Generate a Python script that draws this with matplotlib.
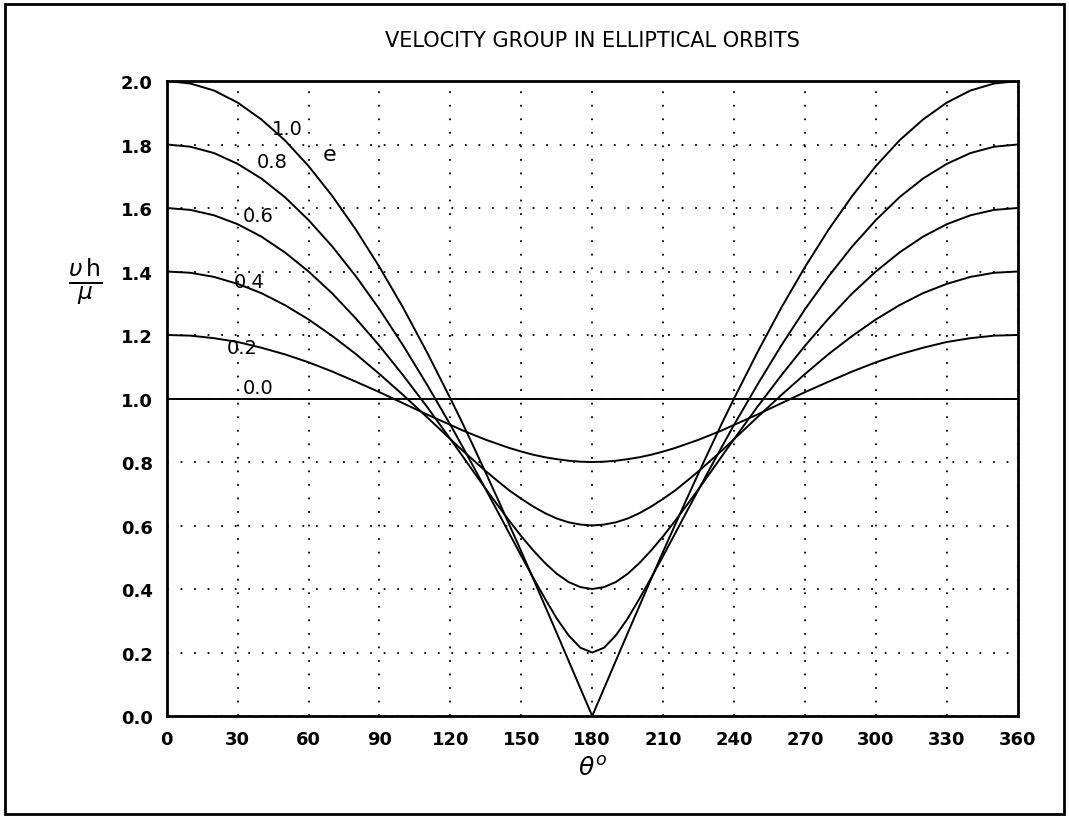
import numpy as np
import matplotlib.pyplot as plt
from matplotlib.patches import Rectangle

# theta from 0 to 180 deg, curves are mirror images about 180
theta_half = [0, 10, 20, 30, 40, 50, 60, 70, 80, 90, 100, 110, 120,
              125, 130, 135, 140, 145, 150, 155, 160, 165, 170, 175, 180]

# values, v h / mu
e00 = [1.0] * 25
e02 = [1.200, 1.198, 1.190, 1.178, 1.160, 1.139, 1.114, 1.085, 1.053, 1.020, 0.985, 0.950, 0.917,
       0.900, 0.885, 0.870, 0.857, 0.844, 0.833, 0.823, 0.815, 0.809, 0.804, 0.801, 0.800]
e04 = [1.400, 1.396, 1.383, 1.361, 1.332, 1.294, 1.249, 1.197, 1.140, 1.077, 1.011, 0.942, 0.872,
       0.837, 0.804, 0.771, 0.740, 0.710, 0.684, 0.660, 0.639, 0.622, 0.610, 0.603, 0.600]
e06 = [1.600, 1.594, 1.577, 1.549, 1.510, 1.460, 1.400, 1.331, 1.252, 1.166, 1.073, 0.975, 0.872,
       0.820, 0.767, 0.715, 0.664, 0.614, 0.566, 0.522, 0.482, 0.448, 0.422, 0.406, 0.400]
e08 = [1.800, 1.793, 1.773, 1.739, 1.693, 1.634, 1.562, 1.479, 1.385, 1.281, 1.167, 1.045, 0.917,
       0.850, 0.782, 0.713, 0.644, 0.574, 0.504, 0.436, 0.370, 0.307, 0.254, 0.215, 0.200]
e10 = [2.000, 1.992, 1.970, 1.932, 1.879, 1.813, 1.732, 1.638, 1.532, 1.414, 1.286, 1.147, 1.000,
       0.924, 0.845, 0.765, 0.684, 0.601, 0.518, 0.433, 0.347, 0.261, 0.174, 0.087, 0.000]

curves = [e00, e02, e04, e06, e08, e10]
curve_labels = ["0.0", "0.2", "0.4", "0.6", "0.8", "1.0"]
label_pos = [(38.5, 1.036), (32, 1.162), (35, 1.367), (38.5, 1.575), (44.5, 1.748), (51, 1.849)]

xticks = list(range(0, 361, 30))
yticks = [0.0, 0.2, 0.4, 0.6, 0.8, 1.0, 1.2, 1.4, 1.6, 1.8, 2.0]

theta = theta_half + [360 - t for t in theta_half[-2::-1]]

fig = plt.figure(figsize=(10.69, 8.2), dpi=100)
ax = fig.add_axes([0.156, 0.1256, 0.796, 0.7744])

for vals in curves:
    full = vals + vals[-2::-1]
    ax.plot(theta, full, color="black", lw=1.4)

for lab, (x, y) in zip(curve_labels, label_pos):
    ax.text(x, y, lab, fontsize=14, ha="center", va="center")
ax.text(69, 1.77, "e", fontsize=16, ha="center", va="center")

ax.set_xlim(0, 360)
ax.set_ylim(0, 2.0)
ax.set_xticks(xticks)
ax.set_yticks(yticks)
ax.set_yticklabels([f"{v:.1f}" for v in yticks])
ax.tick_params(length=0, labelsize=13, pad=10)
for lbl in ax.get_xticklabels() + ax.get_yticklabels():
    lbl.set_fontweight("bold")
ax.grid(True, color="black", linestyle=(0, (1, 6.5)), lw=1.3)
for s in ax.spines.values():
    s.set_linewidth(2)

ax.set_title("VELOCITY GROUP IN ELLIPTICAL ORBITS", fontsize=15, pad=25)
ax.set_xlabel(r"$\theta^o$", fontsize=18, labelpad=6)
fig.text(0.08, 0.655, r"$\frac{\upsilon\, \mathrm{h}}{\mu}$", fontsize=24,
         ha="center", va="center")

fig.patches.append(Rectangle((0.005, 0.006), 0.99, 0.988, transform=fig.transFigure,
                             fill=False, edgecolor="black", lw=2))

plt.savefig("out.png")
